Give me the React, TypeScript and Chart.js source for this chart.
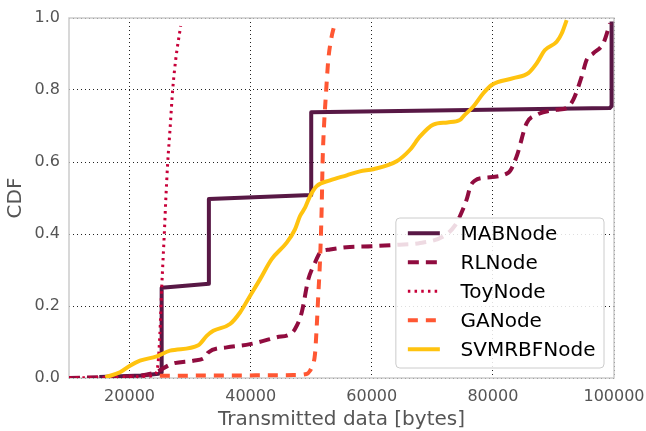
import React, { useEffect, useRef } from 'react';
import { Chart, registerables } from 'chart.js';

Chart.register(...registerables);

const xTicks = [20000, 40000, 60000, 80000, 100000];
const yTicks = [0, 0.2, 0.4, 0.6, 0.8, 1.0];

const seriesNames = ['MABNode', 'RLNode', 'ToyNode', 'GANode', 'SVMRBFNode'];

const mabX = [15000, 22000, 24800, 25300, 25300, 33100, 33100, 50000, 50000, 99300, 99600, 99600];
const mabY = [0.003, 0.007, 0.012, 0.015, 0.251, 0.262, 0.497, 0.508, 0.738, 0.75, 0.755, 0.99];

const rlX = [10000, 17000, 22000, 24480, 26960, 30530, 32460, 33000, 36040, 39890, 44300, 46500, 47320, 48430, 49520, 50620, 51450, 53100, 56400, 60000, 64100, 68000, 72000, 73800, 74570, 75670, 76300, 77000, 78420, 82550, 83930, 85580, 87230, 90530, 92180, 93280, 94660, 95490, 96590, 98240, 99340];
const rlY = [0.0, 0.003, 0.007, 0.017, 0.039, 0.048, 0.057, 0.071, 0.085, 0.094, 0.113, 0.122, 0.136, 0.182, 0.274, 0.32, 0.348, 0.357, 0.364, 0.366, 0.37, 0.375, 0.395, 0.425, 0.45, 0.496, 0.533, 0.548, 0.556, 0.57, 0.616, 0.708, 0.731, 0.745, 0.75, 0.773, 0.837, 0.884, 0.902, 0.93, 0.985];

const toyX = [10000, 18000, 23000, 24300, 24700, 25000, 25310, 25770, 25985, 26300, 26680, 27120, 27620, 28440];
const toyY = [0.0, 0.002, 0.005, 0.012, 0.04, 0.12, 0.25, 0.413, 0.496, 0.598, 0.69, 0.8, 0.884, 0.978];

const gaX = [25000, 35000, 47040, 49230, 49800, 50070, 50620, 50900, 51170, 51450, 51720, 51890, 52110, 52440, 52820, 53370, 53760];
const gaY = [0.006, 0.007, 0.008, 0.011, 0.02, 0.03, 0.066, 0.14, 0.232, 0.325, 0.468, 0.607, 0.699, 0.791, 0.884, 0.948, 0.976];

const svmX = [16000, 18420, 20070, 21720, 24480, 26680, 31350, 32740, 33830, 36590, 38240, 39890, 41540, 43470, 45950, 47320, 48150, 48980, 49800, 50900, 53100, 55860, 58050, 60250, 64110, 66310, 67960, 70160, 72500, 74570, 75120, 76770, 78420, 79800, 83370, 85850, 87230, 88600, 90530, 91360, 92180];
const svmY = [0.002, 0.016, 0.034, 0.048, 0.06, 0.076, 0.091, 0.117, 0.131, 0.15, 0.182, 0.228, 0.274, 0.33, 0.376, 0.413, 0.45, 0.473, 0.505, 0.533, 0.549, 0.563, 0.574, 0.58, 0.602, 0.634, 0.671, 0.704, 0.71, 0.717, 0.727, 0.754, 0.791, 0.814, 0.833, 0.847, 0.874, 0.911, 0.934, 0.957, 0.994];

const zip = (xs: number[], ys: number[]) => xs.map((x, i) => ({ x, y: ys[i] }));

const FONT = '"DejaVu Sans", "Liberation Sans", sans-serif';

const framePlugin = {
  id: 'frame',
  beforeDatasetsDraw(chart: any) {
    const { ctx, chartArea: a } = chart;
    ctx.save();
    ctx.strokeStyle = '#cccccc';
    ctx.lineWidth = 1.5;
    ctx.setLineDash([]);
    ctx.strokeRect(a.left, a.top, a.right - a.left, a.bottom - a.top);
    ctx.restore();
  },
};

const legendPlugin = {
  id: 'customLegend',
  afterDraw(chart: any) {
    const { ctx, chartArea: a } = chart;
    const datasets = chart.data.datasets;
    ctx.save();
    ctx.font = `20px ${FONT}`;
    let maxW = 0;
    datasets.forEach((d: any) => {
      maxW = Math.max(maxW, ctx.measureText(d.label).width);
    });
    const padL = 12;
    const handle = 32;
    const gap = 20.7;
    const padR = 8.5;
    const rowH = 29;
    const boxW = padL + handle + gap + maxW + padR;
    const boxH = 15.3 + rowH * (datasets.length - 1) + 18.7;
    const right = a.right - 10;
    const bottom = a.bottom - 10;
    const left = right - boxW;
    const top = bottom - boxH;
    const r = 4;
    ctx.beginPath();
    ctx.moveTo(left + r, top);
    ctx.lineTo(right - r, top);
    ctx.arcTo(right, top, right, top + r, r);
    ctx.lineTo(right, bottom - r);
    ctx.arcTo(right, bottom, right - r, bottom, r);
    ctx.lineTo(left + r, bottom);
    ctx.arcTo(left, bottom, left, bottom - r, r);
    ctx.lineTo(left, top + r);
    ctx.arcTo(left, top, left + r, top, r);
    ctx.closePath();
    ctx.fillStyle = 'rgba(255,255,255,0.85)';
    ctx.fill();
    ctx.strokeStyle = '#cccccc';
    ctx.lineWidth = 1;
    ctx.stroke();
    datasets.forEach((d: any, i: number) => {
      const cy = top + 15.3 + i * rowH;
      ctx.beginPath();
      ctx.setLineDash(d.borderDash || []);
      ctx.lineDashOffset = 0;
      ctx.strokeStyle = d.borderColor;
      ctx.lineWidth = d.borderWidth;
      ctx.lineCap = 'butt';
      ctx.moveTo(left + padL, cy);
      ctx.lineTo(left + padL + handle, cy);
      ctx.stroke();
      ctx.setLineDash([]);
      ctx.fillStyle = '#000000';
      ctx.textBaseline = 'middle';
      ctx.textAlign = 'left';
      ctx.fillText(d.label, left + padL + handle + gap, cy + 1);
    });
    ctx.restore();
  },
};

export default function App() {
  const ref = useRef<HTMLCanvasElement | null>(null);

  useEffect(() => {
    if (!ref.current) return;
    const common = {
      pointRadius: 0,
      pointHoverRadius: 0,
      fill: false,
      borderJoinStyle: 'round' as const,
      borderCapStyle: 'butt' as const,
    };
    const chart = new Chart(ref.current, {
      type: 'line',
      data: {
        datasets: [
          { ...common, label: seriesNames[0], data: zip(mabX, mabY), borderColor: '#581845', borderWidth: 4, tension: 0, order: 4 },
          { ...common, label: seriesNames[1], data: zip(rlX, rlY), borderColor: '#900C3F', borderWidth: 4, borderDash: [11, 7], cubicInterpolationMode: 'monotone', order: 3 },
          { ...common, label: seriesNames[2], data: zip(toyX, toyY), borderColor: '#C70039', borderWidth: 3, borderDash: [2.5, 4.2], cubicInterpolationMode: 'monotone', order: 2 },
          { ...common, label: seriesNames[3], data: zip(gaX, gaY), borderColor: '#FF5733', borderWidth: 4, borderDash: [10, 8], cubicInterpolationMode: 'monotone', order: 1 },
          { ...common, label: seriesNames[4], data: zip(svmX, svmY), borderColor: '#FFC30F', borderWidth: 4, cubicInterpolationMode: 'monotone', order: 0 },
        ],
      } as any,
      options: {
        responsive: false,
        animation: false,
        events: [],
        layout: { padding: { top: 18, right: 32, left: 0, bottom: 0 } },
        plugins: { legend: { display: false }, tooltip: { enabled: false } },
        scales: {
          x: {
            type: 'linear',
            min: 10000,
            max: 100000,
            afterBuildTicks: (s: any) => {
              s.ticks = xTicks.map((v) => ({ value: v }));
            },
            afterFit: (s: any) => {
              s.height = 53;
              s.paddingLeft = 0;
              s.paddingRight = 0;
            },
            grid: { color: '#222222', lineWidth: 1, drawTicks: false },
            border: { display: false, dash: [1, 3] },
            ticks: {
              color: '#555555',
              font: { family: FONT, size: 16 },
              padding: 9,
              maxRotation: 0,
              autoSkip: false,
              callback: (v: any) => String(v),
            },
            title: {
              display: true,
              text: 'Transmitted data [bytes]',
              color: '#555555',
              font: { family: FONT, size: 20 },
              padding: { top: 0, bottom: -1 },
            },
          },
          y: {
            type: 'linear',
            min: 0,
            max: 1,
            afterBuildTicks: (s: any) => {
              s.ticks = yTicks.map((v) => ({ value: v }));
            },
            afterFit: (s: any) => {
              s.width = 69;
              s.paddingTop = 0;
              s.paddingBottom = 0;
            },
            grid: { color: '#222222', lineWidth: 1, drawTicks: false },
            border: { display: false, dash: [1, 3] },
            ticks: {
              color: '#555555',
              font: { family: FONT, size: 16 },
              padding: 9,
              autoSkip: false,
              callback: (v: any) => Number(v).toFixed(1),
            },
            title: {
              display: true,
              text: 'CDF',
              color: '#555555',
              font: { family: FONT, size: 20 },
              padding: { top: 3.5, bottom: 0 },
            },
          },
        },
      } as any,
      plugins: [framePlugin, legendPlugin],
    });
    return () => chart.destroy();
  }, []);

  return (
    <div style={{ position: 'absolute', left: 0, top: 0, width: 646, height: 431, background: '#ffffff' }}>
      <canvas ref={ref} width={646} height={431} style={{ display: 'block' }} />
    </div>
  );
}
